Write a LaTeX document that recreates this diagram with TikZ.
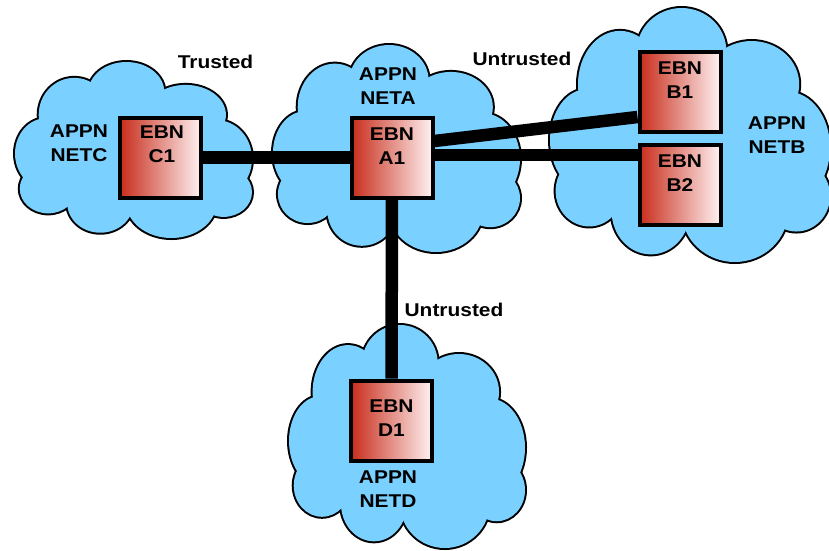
\documentclass[tikz,border=0pt]{standalone}
\usepackage{fontspec}
\setmainfont{Liberation Sans}[FakeStretch=1.13]
\usetikzlibrary{calc}
\definecolor{cloudblue}{RGB}{122,208,255}
\definecolor{ebnred}{RGB}{200,45,28}
\definecolor{ebnpale}{RGB}{255,242,242}
\pgfdeclarelayer{cloudlayer}
\pgfdeclarelayer{linklayer}
\pgfsetlayers{cloudlayer,linklayer,main}
\newcommand{\puffs}{0.47/0.17/0.16/0.17, 0.25/0.30/0.15/0.21, 0.72/0.30/0.17/0.17,
  0.13/0.52/0.13/0.20, 0.85/0.55/0.15/0.22, 0.14/0.72/0.12/0.14,
  0.36/0.80/0.14/0.17, 0.66/0.80/0.19/0.20, 0.88/0.74/0.12/0.14, 0.50/0.52/0.35/0.32}
\newcommand{\mycloud}[4]{%
  \begin{scope}[shift={(#1,#2)}, xscale=#3, yscale=#4]
    \foreach \u/\v/\a/\b in \puffs {\draw[cloudline] (\u,\v) ellipse [x radius=\a, y radius=\b];}
    \foreach \u/\v/\a/\b in \puffs {\fill[cloudblue] (\u,\v) ellipse [x radius=\a, y radius=\b];}
  \end{scope}}
\tikzset{
  cloudline/.style={line width=4pt, draw=black},
  ebn/.style={draw=black, line width=4pt, minimum width=81pt, minimum height=80pt,
    inner sep=0pt, left color=ebnred, right color=ebnpale},
  lbl/.style={font=\bfseries\fontsize{18.5}{24}\selectfont, align=center, inner sep=0pt},
  link/.style={line width=12.5pt, draw=black}
}
\begin{document}
\begin{tikzpicture}[x=1pt, y=-1pt]
\useasboundingbox (0,0) rectangle (829,550);
\begin{pgfonlayer}{cloudlayer}
  \mycloud{15}{62}{237}{176}
  \mycloud{273}{45}{247}{207}
  \mycloud{550}{8}{280}{254}
  \mycloud{289}{325}{236}{223}
\end{pgfonlayer}

\node[ebn] (C1) at (160.5,157.5) {};
\node[ebn] (A1) at (392,157.5) {};
\node[ebn] (B1) at (680,91.5) {};
\node[ebn] (B2) at (680,185) {};
\node[ebn] (D1) at (391.5,420.5) {};

\node[lbl] (C1t) at ($(C1)+(1.5,-13)$) {EBN\\C1};
\node[lbl] (A1t) at ($(A1)+(0,-11)$) {EBN\\A1};
\node[lbl] (B1t) at ($(B1)+(0,-11.5)$) {EBN\\B1};
\node[lbl] (B2t) at ($(B2)+(0,-11.5)$) {EBN\\B2};
\node[lbl] (D1t) at ($(D1)+(0,-2.5)$) {EBN\\D1};

\node[lbl] (netc) at (79,143.5) {APPN\\NETC};
\node[lbl] (neta) at (388,86) {APPN\\NETA};
\node[lbl] (netb) at (777,135.5) {APPN\\NETB};
\node[lbl] (netd) at (388,489.5) {APPN\\NETD};

\node[lbl] (trusted) at (215.5,61.5) {Trusted};
\node[lbl] (untrusted1) at (522,58.5) {Untrusted};
\node[lbl] (untrusted2) at (454,309.5) {Untrusted};

\begin{pgfonlayer}{linklayer}
  \coordinate (a1b1) at ($(A1.east)+(0,-16.5)$);
  \coordinate (b1a1) at ($(B1.west)+(0,25.5)$);
  \coordinate (a1b2) at ($(A1.east)+(0,-2.5)$);
  \draw[link] (C1) -- (A1);
  \draw[link] (a1b1) -- (b1a1);
  \draw[link] (a1b2) -- (a1b2 -| B2.west);
  \draw[link] (A1) -- (D1);
\end{pgfonlayer}
\end{tikzpicture}
\end{document}
